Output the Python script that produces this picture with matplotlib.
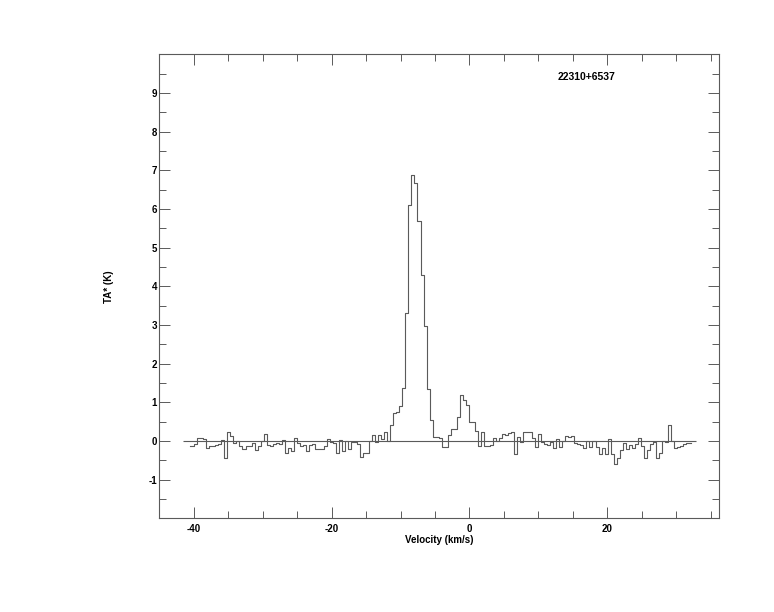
import matplotlib
matplotlib.use('Agg')
import matplotlib.pyplot as plt
from matplotlib.ticker import MultipleLocator, FixedLocator
import numpy as np

plt.rcParams['font.family'] = ['Liberation Sans', 'DejaVu Sans']
plt.rcParams['axes.unicode_minus'] = False

source = '22310+6537'

# channel grid (km/s): left edge of first channel and channel width
v_start = -40.81
chan_width = 0.4377

# antenna temperature TA* (K), one value per channel
ta = [
    -0.12, -0.14, -0.08, 0.07, 0.07, 0.04, -0.17, -0.12, -0.12, -0.10,
    -0.08, 0.03, -0.45, 0.24, 0.14, -0.04, 0.01, -0.14, -0.21, -0.14,
    -0.14, -0.05, -0.23, -0.14, 0.01, 0.19, -0.10, -0.12, -0.07, -0.05,
    -0.07, 0.03, -0.30, -0.18, -0.25, 0.08, -0.05, -0.14, -0.10, -0.25,
    -0.10, -0.07, -0.22, -0.22, -0.22, -0.14, 0.05, -0.03, -0.05, -0.31,
    0.02, -0.27, 0.00, -0.20, -0.02, -0.02, -0.07, -0.41, -0.31, -0.31,
    0.00, 0.16, -0.03, 0.16, 0.06, 0.23, 0.00, 0.41, 0.72, 0.75,
    0.90, 1.37, 3.32, 6.09, 6.89, 6.67, 5.68, 4.30, 2.97, 1.35,
    0.55, 0.10, 0.10, 0.08, -0.15, -0.15, 0.15, 0.31, 0.31, 0.62,
    1.18, 1.06, 0.93, 0.50, 0.49, 0.25, -0.12, 0.23, -0.12, -0.14,
    -0.10, 0.08, 0.01, 0.08, 0.19, 0.16, 0.21, 0.22, -0.33, 0.10,
    -0.02, 0.22, 0.22, 0.23, 0.08, -0.16, 0.19, -0.03, -0.07, -0.10,
    -0.03, -0.18, 0.05, -0.15, 0.00, 0.14, 0.09, 0.14, -0.06, -0.09,
    -0.10, -0.19, 0.00, -0.15, 0.00, -0.15, -0.34, -0.19, -0.34, 0.05,
    -0.34, -0.60, -0.45, -0.23, -0.06, -0.21, -0.10, -0.17, -0.09, 0.07,
    -0.12, -0.43, -0.23, -0.09, -0.02, -0.45, -0.32, 0.00, -0.03, 0.41,
    0.00, -0.19, -0.16, -0.12, -0.09, -0.05, -0.04,
]

# baseline drawn under the spectrum
base_from, base_to = -41.5, 32.8

ta = np.array(ta)
vel = v_start + chan_width * (np.arange(len(ta)) + 0.5)

gray = '#5a5a5a'

fig = plt.figure(figsize=(7.74, 6.12), dpi=100)
ax = fig.add_axes([0.2058, 0.1531, 0.929 - 0.2058, 0.9113 - 0.1531])

ax.step(vel, ta, where='mid', color=gray, lw=0.8)
ax.hlines(0, base_from, base_to, color=gray, lw=0.8)

ax.set_xlim(-45, 36.2)
ax.set_ylim(-2, 10)

ax.xaxis.set_major_locator(FixedLocator([-40, -20, 0, 20]))
ax.xaxis.set_minor_locator(MultipleLocator(5))
ax.yaxis.set_major_locator(FixedLocator(list(range(-1, 10))))
ax.yaxis.set_minor_locator(MultipleLocator(0.5))

ax.tick_params(which='both', direction='in', top=True, right=True,
               color=gray, width=0.7, labelsize=7)
ax.tick_params(which='major', length=7.7)
ax.tick_params(which='minor', length=5)
ax.tick_params(axis='y', pad=1.5)
ax.tick_params(axis='x', pad=4)
for lab in ax.get_xticklabels() + ax.get_yticklabels():
    lab.set_fontweight('bold')

for sp in ax.spines.values():
    sp.set_color(gray)
    sp.set_linewidth(0.8)

ax.set_xlabel('Velocity (km/s)', fontsize=7, fontweight='bold', labelpad=1)
ax.set_ylabel('TA* (K)', fontsize=7, fontweight='bold', labelpad=25)

ax.text(0.764, 0.950, source, transform=ax.transAxes, ha='center', va='center',
        fontsize=7.5, fontweight='bold')

fig.savefig('out.png', dpi=100)
